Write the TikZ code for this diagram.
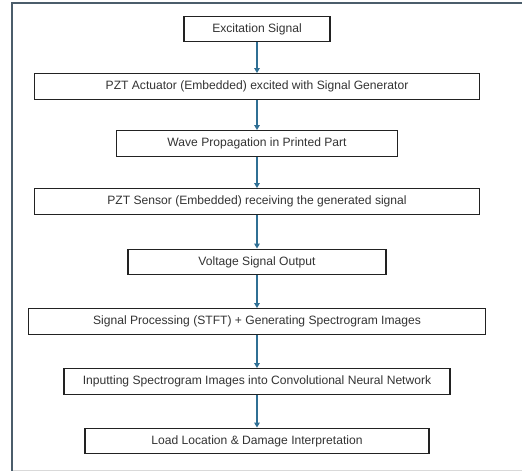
\documentclass[tikz,border=0pt]{standalone}
\usepackage{fontspec}
\setmainfont{Liberation Sans}
\usetikzlibrary{arrows.meta}
\definecolor{framec}{HTML}{4B5D6B}
\definecolor{arrc}{HTML}{2F6F94}
\definecolor{boxc}{HTML}{222222}
\tikzset{
  stepbox/.style={draw=boxc, line width=1.4pt, minimum height=25.5pt, inner sep=0pt, font=\fontsize{12.1}{14}\selectfont, text=black!80, anchor=center},
  flow/.style={draw=arrc, line width=1.3pt, -{Triangle[width=5.5pt,length=5pt]}}
}
\begin{document}
\begin{tikzpicture}[x=1pt,y=-1pt]
\useasboundingbox (0,0) rectangle (522,471);
\fill[white] (0,0) rectangle (522,471);
\draw[framec, line width=2pt] (12,471) -- (12,2.5) -- (522,2.5);
\draw[black!15, line width=1pt] (13,470) -- (522,470);
\node[stepbox, minimum width=146pt] (n1) at (257,29) {Excitation Signal};
\node[stepbox, minimum width=445pt] (n2) at (257,86.5) {PZT Actuator (Embedded) excited with Signal Generator};
\node[stepbox, minimum width=281pt] (n3) at (257,143.5) {Wave Propagation in Printed Part};
\node[stepbox, minimum width=445pt] (n4) at (257,201.5) {PZT Sensor (Embedded) receiving the generated signal};
\node[stepbox, minimum width=258pt] (n5) at (257,262) {Voltage Signal Output};
\node[stepbox, minimum width=457pt] (n6) at (257,321.5) {Signal Processing (STFT) + Generating Spectrogram Images};
\node[stepbox, minimum width=386pt] (n7) at (257,381.5) {Inputting Spectrogram Images into Convolutional Neural Network};
\node[stepbox, minimum width=344pt] (n8) at (257,441) {Load Location \& Damage Interpretation};
\draw[flow] (n1) -- (n2);
\draw[flow] (n2) -- (n3);
\draw[flow] (n3) -- (n4);
\draw[flow] (n4) -- (n5);
\draw[flow] (n5) -- (n6);
\draw[flow] (n6) -- (n7);
\draw[flow] (n7) -- (n8);
\end{tikzpicture}
\end{document}
